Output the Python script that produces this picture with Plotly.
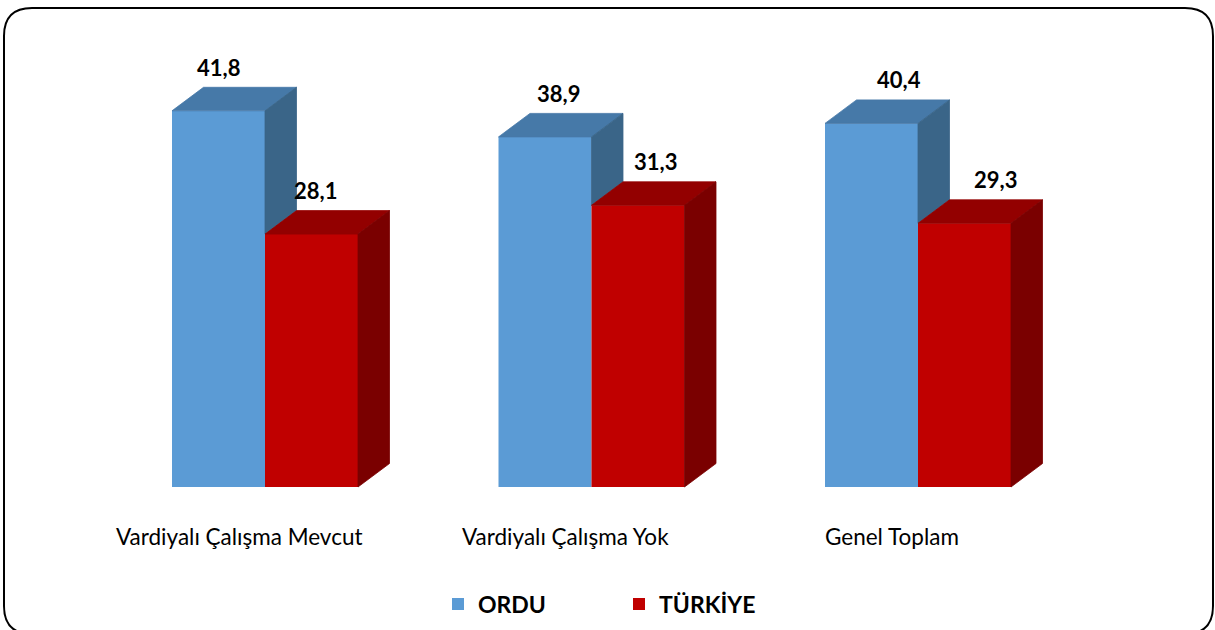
import plotly.graph_objects as go

# ---- data ----
categories = ["Vardiyalı Çalışma Mevcut", "Vardiyalı Çalışma Yok", "Genel Toplam"]
series_names = ["ORDU", "TÜRKİYE"]
ordu = [41.8, 38.9, 40.4]
turkiye = [28.1, 31.3, 29.3]

# ---- layout constants (pixels) ----
W, H = 1215, 630
BASE_PX = 487          # pixel row of value 0
PX_PER_UNIT = 9.0      # vertical scale
C0_PX = 265            # pixel column of first category centre
STEP_PX = 326.5        # pixels between categories
BAR_PX = 93            # bar width
DX_PX, DY_PX = 31.5, 23.5   # 3-D depth offset

FONT = "Lato"

# derived axis ranges
y_range = [-(H - BASE_PX) / PX_PER_UNIT, BASE_PX / PX_PER_UNIT]
x_range = [(0 - C0_PX) / STEP_PX, (W - C0_PX) / STEP_PX]
bw = BAR_PX / STEP_PX
dx = DX_PX / STEP_PX
dy = DY_PX / PX_PER_UNIT

colors = {
    "ORDU": dict(front="#5B9BD5", top="#4679A8", side="#3A6588"),
    "TÜRKİYE": dict(front="#C00000", top="#930000", side="#7A0000"),
}

xs = list(range(len(categories)))
fig = go.Figure()

# front faces (real bars)
for name, vals, off in [(series_names[0], ordu, -bw), (series_names[1], turkiye, 0.0)]:
    fig.add_trace(go.Bar(
        x=xs, y=vals, name=name, width=bw, offset=off,
        marker=dict(color=colors[name]["front"], line=dict(width=0)),
        hoverinfo="skip",
    ))


def poly_trace(px, py, color):
    return go.Scatter(x=px, y=py, mode="lines", fill="toself", fillcolor=color,
                      line=dict(color=color, width=0.8), showlegend=False,
                      hoverinfo="skip")


# top & side faces computed from the values
for name, vals, other, off in [(series_names[0], ordu, turkiye, -bw),
                               (series_names[1], turkiye, None, 0.0)]:
    tx, ty, sx, sy = [], [], [], []
    for i, v in enumerate(vals):
        xl = i + off
        xr = xl + bw
        tx += [xl, xr, xr + dx, xl + dx, xl, None]
        ty += [v, v, v + dy, v + dy, v, None]
        lo = 0.0
        if other is not None:
            lo = min(other[i], v)
        sx += [xr, xr, xr + dx, xr + dx, xr, None]
        sy += [lo, v, v + dy, lo + dy, lo, None]
    fig.add_trace(poly_trace(tx, ty, colors[name]["top"]))
    fig.add_trace(poly_trace(sx, sy, colors[name]["side"]))

# value labels
annotations = []
for vals, off in [(ordu, -bw), (turkiye, 0.0)]:
    for i, v in enumerate(vals):
        cx = i + off + bw / 2
        cpx = C0_PX + cx * STEP_PX
        shift_px = 2 + 0.0417 * (cpx - C0_PX)
        annotations.append(dict(
            x=cx + shift_px / STEP_PX, y=v + dy + 20 / PX_PER_UNIT,
            text=f"{v:.1f}".replace(".", ","), showarrow=False,
            xanchor="center", yanchor="middle",
            font=dict(family=FONT, size=22, color="#000000", weight="bold"),
        ))

# category labels
for i, c in enumerate(categories):
    annotations.append(dict(
        x=i - 26 / STEP_PX, y=(BASE_PX - 536) / PX_PER_UNIT, text=c, showarrow=False,
        xanchor="center", yanchor="middle",
        font=dict(family=FONT, size=22.5, color="#000000"),
    ))

# rounded border (paper coords)
def P(xp, yp):
    return f"{xp / W:.5f},{1 - yp / H:.5f}"

L, T, R, B, r = 4, 8, 1213, 634, 28
path = (f"M{P(L + r, T)} L{P(R - r, T)} Q{P(R, T)} {P(R, T + r)} "
        f"L{P(R, B - r)} Q{P(R, B)} {P(R - r, B)} L{P(L + r, B)} "
        f"Q{P(L, B)} {P(L, B - r)} L{P(L, T + r)} Q{P(L, T)} {P(L + r, T)} Z")

fig.update_layout(
    width=W, height=H,
    margin=dict(l=0, r=0, t=0, b=0),
    paper_bgcolor="white", plot_bgcolor="white",
    barmode="overlay",
    xaxis=dict(range=x_range, visible=False, fixedrange=True),
    yaxis=dict(range=y_range, visible=False, fixedrange=True),
    showlegend=True,
    legend=dict(orientation="h", x=438 / W, xanchor="left", y=1 - 604 / H, yanchor="middle",
                font=dict(family=FONT, size=23, color="#000000", weight="bold"),
                entrywidth=136, entrywidthmode="pixels", bgcolor="rgba(0,0,0,0)",
                traceorder="normal"),
    annotations=annotations,
    shapes=[dict(type="path", path=path, xref="paper", yref="paper",
                 line=dict(color="#000000", width=2), fillcolor="rgba(0,0,0,0)", layer="above")],
)

fig.write_html("out.html", config={"displayModeBar": False},
               post_script="document.body.style.margin='0';document.body.style.overflow='hidden';")
